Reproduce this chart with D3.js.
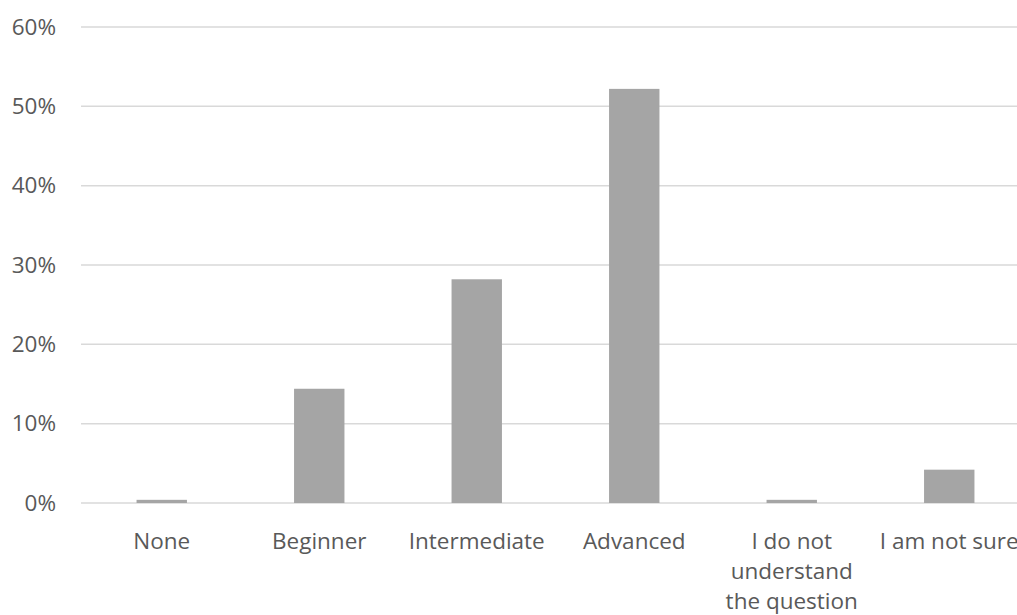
<!DOCTYPE html>
<html>
<head>
<meta charset="utf-8">
<script src="https://cdn.jsdelivr.net/npm/d3@7"></script>
<style>
  html, body { margin: 0; padding: 0; background: #fff; }
  svg { display: block; }
  text { font-family: "Open Sans", "Noto Sans", sans-serif; fill: #595959; }
</style>
</head>
<body>
<svg id="chart" width="1017" height="615"></svg>
<script>
// Share of respondents by self-rated level
const categories = ["None", "Beginner", "Intermediate", "Advanced",
  "I do not understand the question", "I am not sure"];
const values = [0.004, 0.144, 0.282, 0.522, 0.004, 0.042];
// Wrapped axis label lines for each category
const categoryLines = [["None"], ["Beginner"], ["Intermediate"], ["Advanced"],
  ["I do not", "understand", "the question"], ["I am not sure"]];
const yTicks = [0, 0.1, 0.2, 0.3, 0.4, 0.5, 0.6];

const fontSize = 22.5;
const svg = d3.select("#chart");
const x = d3.scaleBand().domain(categories).range([83, 1028]).paddingInner(0.68).paddingOuter(0.34);
const y = d3.scaleLinear().domain([0, 0.6]).range([503, 27]);

// gridlines
svg.append("g").selectAll("line").data(yTicks).join("line")
  .attr("x1", 81).attr("x2", 1017)
  .attr("y1", d => y(d)).attr("y2", d => y(d))
  .attr("stroke", "#d9d9d9").attr("stroke-width", 1.5);

// y axis labels
const yAxis = d3.axisLeft(y).tickValues(yTicks).tickFormat(d3.format(".0%")).tickSize(0).tickPadding(0);
const yg = svg.append("g").attr("transform", "translate(56,0)").call(yAxis);
yg.select(".domain").remove();
yg.selectAll("text").attr("font-size", fontSize).attr("fill", "#595959")
  .style("font-family", "'Open Sans', 'Noto Sans', sans-serif");

// bars
svg.append("g").selectAll("rect").data(categories).join("rect")
  .attr("x", d => x(d))
  .attr("width", x.bandwidth())
  .attr("y", (d, i) => y(values[i]))
  .attr("height", (d, i) => y(0) - y(values[i]))
  .attr("fill", "#a5a5a5");

// category labels
const lab = svg.append("g").selectAll("text").data(categories).join("text")
  .attr("x", d => x(d) + x.bandwidth() / 2)
  .attr("y", 549)
  .attr("text-anchor", "middle")
  .attr("font-size", fontSize);
lab.each(function(d, i) {
  d3.select(this).selectAll("tspan").data(categoryLines[i]).join("tspan")
    .attr("x", x(d) + x.bandwidth() / 2)
    .attr("dy", (t, j) => j === 0 ? 0 : 30)
    .text(t => t);
});
</script>
</body>
</html>
